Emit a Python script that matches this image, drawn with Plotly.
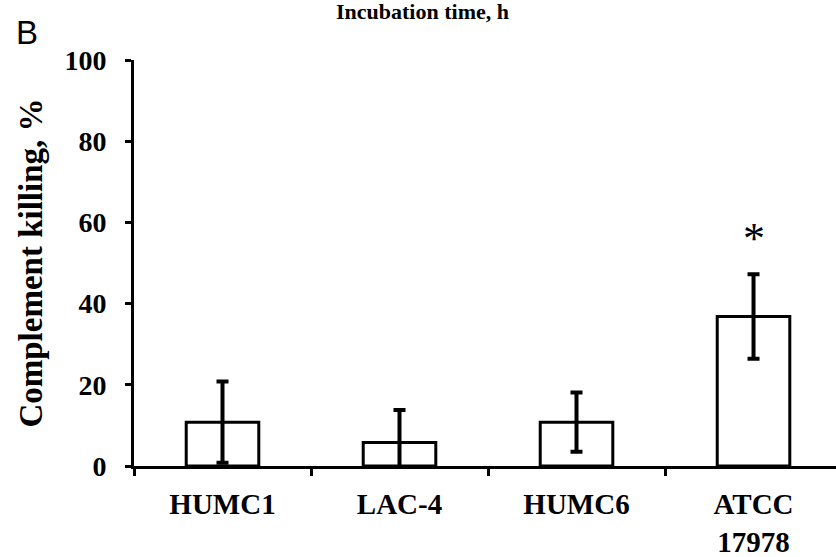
import plotly.graph_objects as go

categories = ["HUMC1", "LAC-4", "HUMC6", "ATCC<br>17978"]
killing = [10.8, 5.8, 10.8, 36.8]
errors = [10.0, 8.0, 7.3, 10.4]
y_ticks = [0, 20, 40, 60, 80, 100]
sig_label = "*"
sig_y = 56.0

SERIF = "Liberation Serif"

fig = go.Figure()
fig.add_trace(go.Bar(
    x=list(range(len(categories))),
    y=killing,
    width=0.41,
    marker=dict(color="white", line=dict(color="black", width=3)),
    error_y=dict(type="data", array=errors, visible=True, color="black", thickness=4, width=6),
    showlegend=False,
))

fig.add_annotation(x=3, y=sig_y, xref="x", yref="y", text=sig_label, showarrow=False,
                   font=dict(family=SERIF, size=44, color="black"), yanchor="middle")

# panel letter
fig.add_annotation(x=(14 - 134) / 702, y=1 + (60 - 12) / 406, xref="paper", yref="paper",
                   text="B", showarrow=False, xanchor="left", yanchor="top",
                   font=dict(family="Liberation Sans", size=33, color="black"))
# title from previous panel (cut at top in the source)
fig.add_annotation(x=(422 - 134) / 702, y=1 + (60 - 11) / 406, xref="paper", yref="paper",
                   text="<b>Incubation time, h</b>", showarrow=False, xanchor="center", yanchor="middle",
                   font=dict(family=SERIF, size=22, color="black"))

fig.update_layout(
    width=836, height=557,
    margin=dict(l=134, r=0, t=60, b=91),
    paper_bgcolor="white", plot_bgcolor="white",
    font=dict(family=SERIF, color="black"),
)
fig.update_xaxes(
    tickmode="array", tickvals=list(range(len(categories))),
    ticktext=[f"<b>{c}</b>" for c in categories],
    range=[-0.5, 3.466],
    showline=True, linecolor="black", linewidth=3,
    showgrid=False, zeroline=False,
    tickfont=dict(family=SERIF, size=29, color="black"),
    minor=dict(tickvals=[-0.5, 0.5, 1.5, 2.5, 3.5], ticks="outside", ticklen=7,
               tickwidth=3, tickcolor="black", showgrid=False),
    ticks="", ticklabelstandoff=10,
)
fig.update_yaxes(
    range=[0, 100], tickvals=y_ticks, ticktext=[f"<b>{v}</b>" for v in y_ticks],
    showline=True, linecolor="black", linewidth=3,
    ticks="outside", ticklen=6, tickwidth=3, tickcolor="black",
    showgrid=False, zeroline=False, ticklabelstandoff=13,
    tickfont=dict(family=SERIF, size=28, color="black"),
    title=dict(text="<b>Complement killing, %</b>", font=dict(family=SERIF, size=33, color="black"), standoff=12),
)

fig.write_html("out.html")
